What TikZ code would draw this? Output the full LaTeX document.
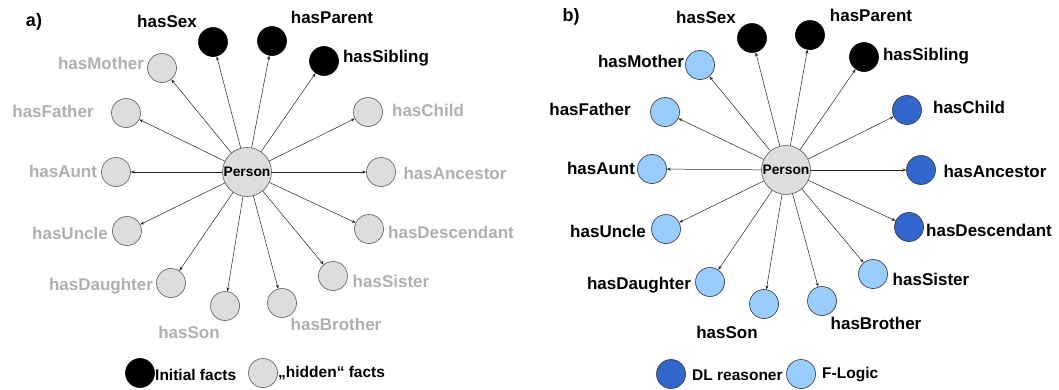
\documentclass[tikz,border=0pt]{standalone}
\usepackage{fontspec}
\setmainfont{Liberation Sans}
\usetikzlibrary{arrows.meta}
\definecolor{lgray}{RGB}{176,176,176}
\definecolor{cfill}{RGB}{221,221,221}
\definecolor{cedge}{RGB}{90,90,90}
\definecolor{lblue}{RGB}{153,204,255}
\definecolor{dblue}{RGB}{51,102,204}
\tikzset{
  circ/.style={circle,inner sep=0pt,minimum size=29pt,line width=0.6pt},
  blackc/.style={circ,fill=black,draw=black},
  grayc/.style={circ,fill=cfill,draw=cedge},
  lbluec/.style={circ,fill=lblue,draw=black!80},
  dbluec/.style={circ,fill=dblue,draw=black!80},
  personc/.style={circle,inner sep=0pt,minimum size=49pt,fill=cfill,draw=cedge,line width=0.6pt,font=\fontsize{13.8}{15}\selectfont\bfseries},
  arr/.style={-{Stealth[length=4pt,width=3pt]},line width=0.5pt,draw=black!85},
  lbl/.style={font=\fontsize{17}{19}\selectfont\bfseries,inner sep=0pt},
  glbl/.style={lbl,text=lgray},
  leg/.style={font=\fontsize{15.5}{17}\selectfont\bfseries,inner sep=0pt},
}
\begin{document}
\begin{tikzpicture}[x=1pt,y=-1pt]
\useasboundingbox[fill=white] (0,0) rectangle (1059,389);
% ---------------- panel a ----------------
\node[lbl,font=\fontsize{18}{20}\selectfont\bfseries] (alab) at (34,22) {a)};
\node[personc] (aP) at (247,172) {Person};
\foreach \n/\x/\y/\s in {sex/213/42/blackc, parent/272/41/blackc, sibling/324/61/blackc,
  mother/162/68/grayc, father/126/113/grayc, child/368/112/grayc, aunt/116/172/grayc,
  ancestor/381/172/grayc, uncle/127/231/grayc, descendant/369/229/grayc,
  daughter/171/283/grayc, son/225/306/grayc, brother/282/303/grayc, sister/333/276/grayc}
{
  \node[\s] (a-\n) at (\x,\y) {};
  \draw[arr] (aP) -- (a-\n);
}
\node[lbl] (al-sex) at (167,21) {hasSex};
\node[lbl] (al-parent) at (332,17) {hasParent};
\node[lbl] (al-sibling) at (386,58) {hasSibling};
\node[glbl] (al-mother) at (101,63) {hasMother};
\node[glbl] (al-father) at (53,111) {hasFather};
\node[glbl] (al-child) at (428,110) {hasChild};
\node[glbl] (al-aunt) at (63,171) {hasAunt};
\node[glbl] (al-ancestor) at (455,173) {hasAncestor};
\node[glbl] (al-uncle) at (70,233) {hasUncle};
\node[glbl] (al-descendant) at (451,232) {hasDescendant};
\node[glbl] (al-daughter) at (101,286) {hasDaughter};
\node[glbl] (al-sister) at (391,281) {hasSister};
\node[glbl] (al-son) at (189,332) {hasSon};
\node[glbl] (al-brother) at (336,324) {hasBrother};
\node[blackc] (aleg1) at (140,373) {};
\node[leg,anchor=west] (aleg1t) at (155,375) {Initial facts};
\node[grayc] (aleg2) at (263,373) {};
\node[leg,anchor=west] (aleg2t) at (278,373) {„hidden“ facts};
% ---------------- panel b ----------------
\node[lbl,font=\fontsize{18}{20}\selectfont\bfseries] (blab) at (571,17) {b)};
\node[personc] (bP) at (786,170) {Person};
\foreach \n/\x/\y/\s in {sex/752/38/blackc, parent/810/35/blackc, sibling/864/57/blackc,
  mother/700/65/lbluec, father/665/112/lbluec, child/907/110/dbluec, aunt/652/169/lbluec,
  ancestor/921/170/dbluec, uncle/666/229/lbluec, descendant/909/227/dbluec,
  daughter/710/282/lbluec, son/764/304/lbluec, brother/822/301/lbluec, sister/873/274/lbluec}
{
  \node[\s] (b-\n) at (\x,\y) {};
  \draw[arr] (bP) -- (b-\n);
}
\node[lbl] (bl-sex) at (706,17) {hasSex};
\node[lbl] (bl-parent) at (871,15) {hasParent};
\node[lbl] (bl-sibling) at (926,56) {hasSibling};
\node[lbl] (bl-mother) at (641,61) {hasMother};
\node[lbl] (bl-father) at (590,109) {hasFather};
\node[lbl] (bl-child) at (969,107) {hasChild};
\node[lbl] (bl-aunt) at (601,168) {hasAunt};
\node[lbl] (bl-ancestor) at (995,171) {hasAncestor};
\node[lbl] (bl-uncle) at (608,231) {hasUncle};
\node[lbl] (bl-descendant) at (989,230) {hasDescendant};
\node[lbl] (bl-daughter) at (639,285) {hasDaughter};
\node[lbl] (bl-sister) at (931,279) {hasSister};
\node[lbl] (bl-son) at (727,332) {hasSon};
\node[lbl] (bl-brother) at (876,323) {hasBrother};
\node[dbluec] (bleg1) at (671,374) {};
\node[leg,anchor=west] (bleg1t) at (692,375) {DL reasoner};
\node[lbluec] (bleg2) at (801,374) {};
\node[leg,anchor=west] (bleg2t) at (822,375) {F-Logic};
\end{tikzpicture}
\end{document}
